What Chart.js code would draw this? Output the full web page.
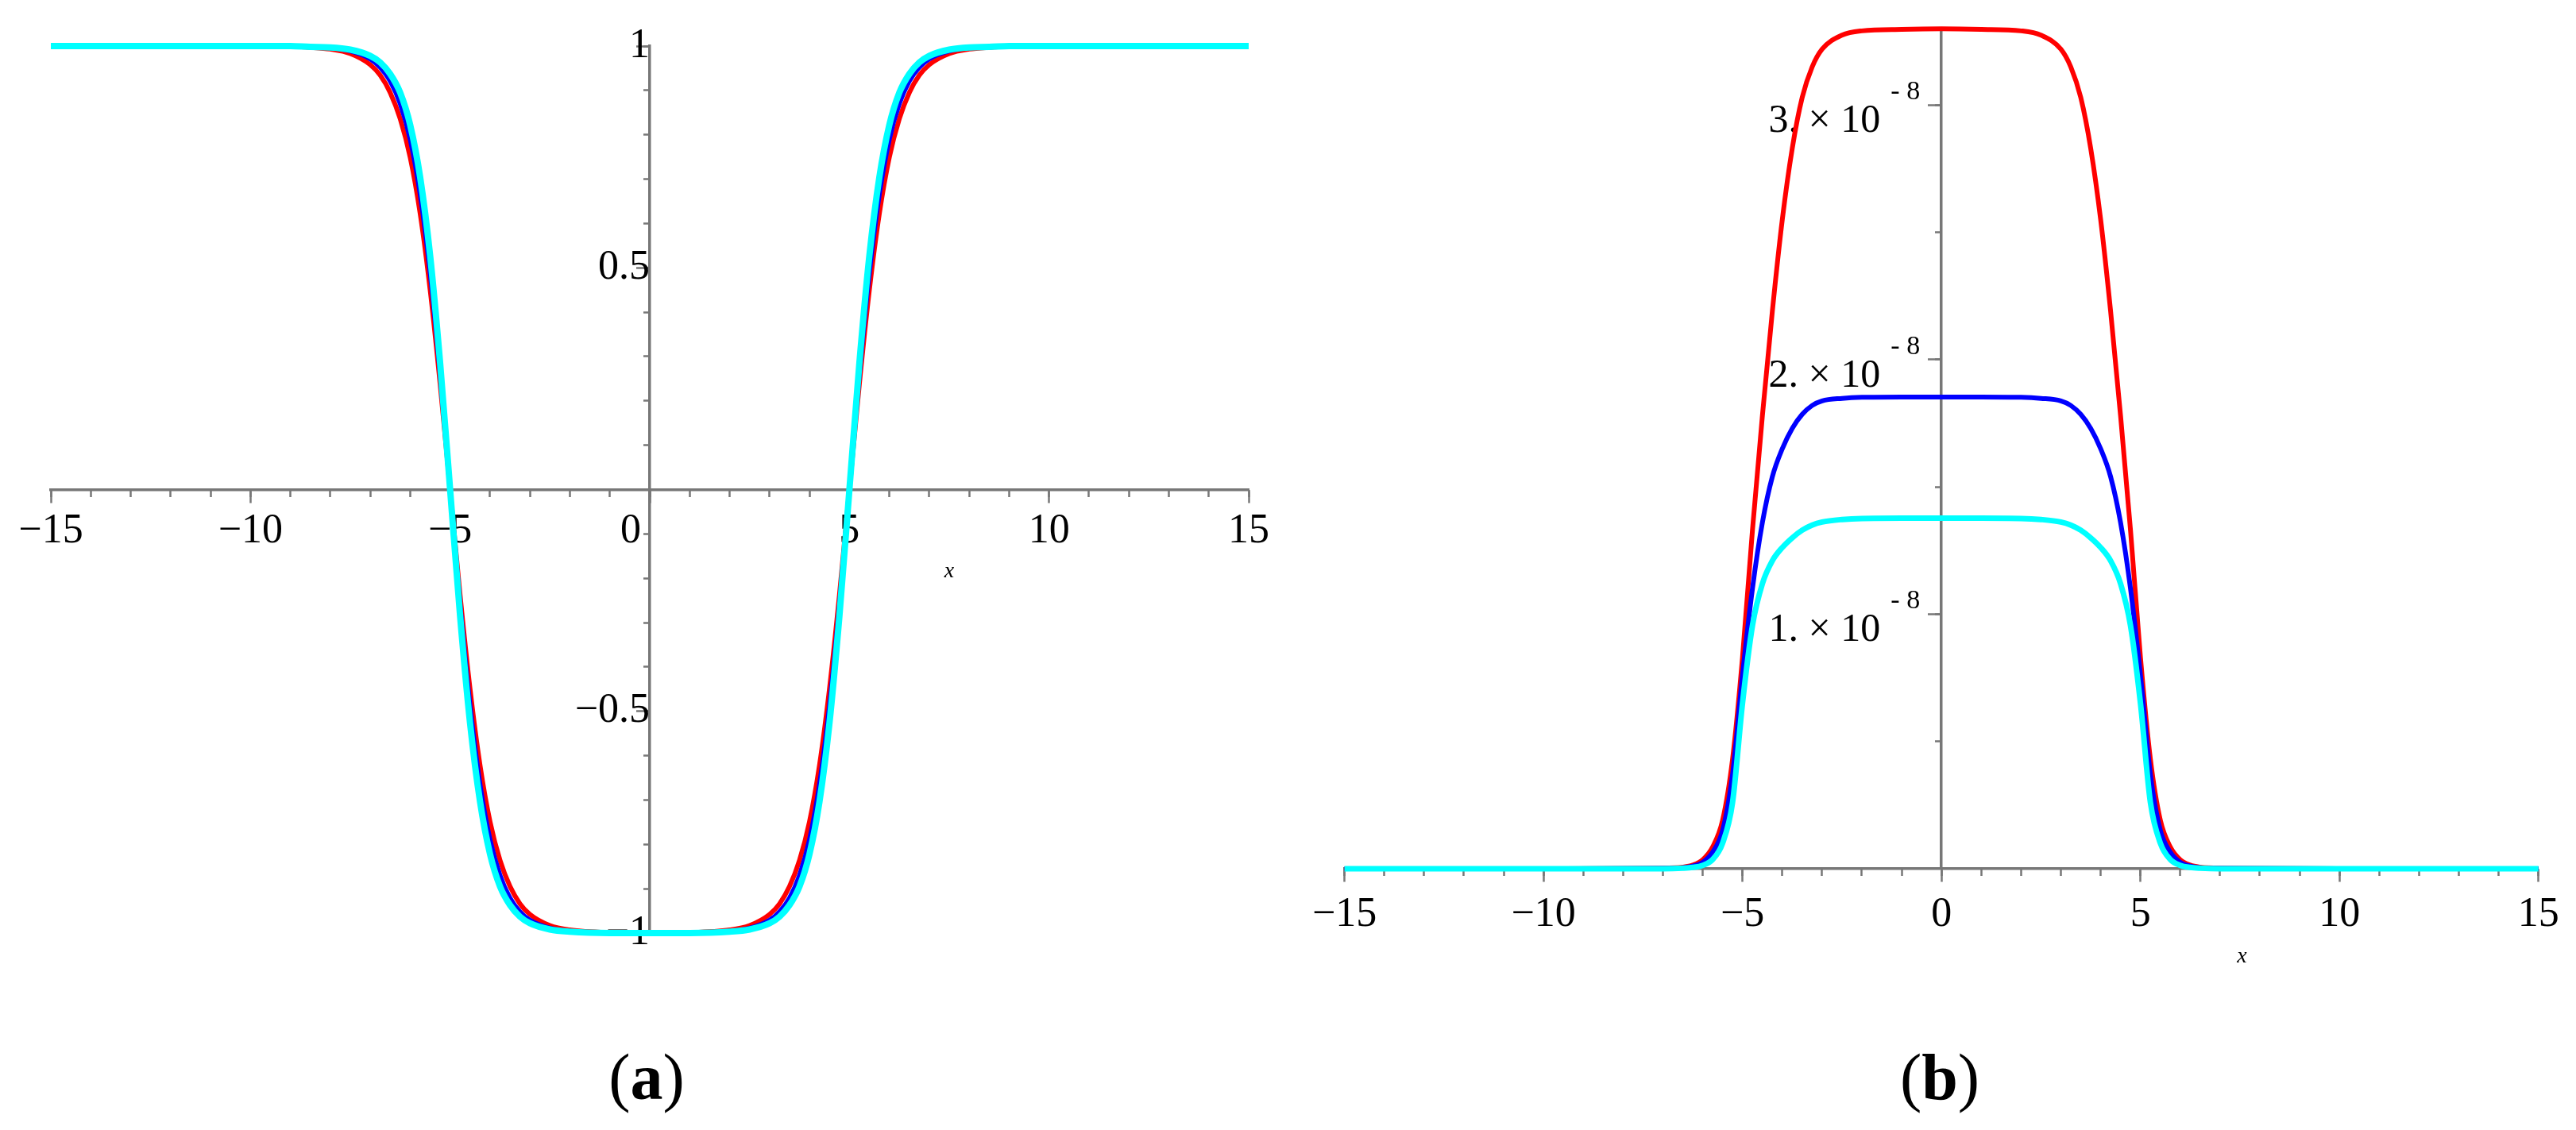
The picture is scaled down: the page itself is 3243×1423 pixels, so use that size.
<!DOCTYPE html>
<html lang="en">
<head>
<meta charset="UTF-8">
<title>Kink profiles (a) and (b)</title>
<script src="https://cdn.jsdelivr.net/npm/chart.js"></script>
<style>
  body { margin: 0; background: #fff; width: 3243px; height: 1423px; position: relative; overflow: hidden; }
  canvas { position: absolute; top: 0; }
  #left { left: 0; }
  #right { left: 1640px; }
  .tag { position: absolute; top: 1357px; transform: translate(-50%, -50%);
         font-family: 'Liberation Serif', 'Times New Roman', serif; font-size: 82px; line-height: normal; }
  .tag b { font-weight: bold; }
</style>
</head>
<body>
<canvas id="left" width="1640" height="1290"></canvas>
<canvas id="right" width="1603" height="1290"></canvas>
<div class="tag" style="left:814px">(<b>a</b>)</div>
<div class="tag" style="left:2442px">(<b>b</b>)</div>

<script>
// (a) field profiles
const kinkX = [-15, -12, -10, -9, -8.5, -8, -7.5, -7, -6.75, -6.5, -6.25, -6, -5.75, -5.5, -5.25, -5,
  -4.75, -4.5, -4.25, -4, -3.75, -3.5, -3.25, -3, -2.5, -2, -1, 0,
  1, 2, 2.5, 3, 3.25, 3.5, 3.75, 4, 4.25, 4.5, 4.75, 5,
  5.25, 5.5, 5.75, 6, 6.25, 6.5, 6.75, 7, 7.5, 8, 8.5, 9, 10, 12, 15];
const kinkRed = [1, 1, 1, 0.999, 0.997, 0.993, 0.983, 0.958, 0.934, 0.895, 0.836, 0.749, 0.622, 0.450, 0.238, 0,
  -0.238, -0.450, -0.622, -0.749, -0.836, -0.895, -0.934, -0.958, -0.983, -0.993, -0.999, -1,
  -0.999, -0.993, -0.983, -0.958, -0.934, -0.895, -0.836, -0.749, -0.622, -0.450, -0.238, 0,
  0.238, 0.450, 0.622, 0.749, 0.836, 0.895, 0.934, 0.958, 0.983, 0.993, 0.997, 0.999, 1, 1, 1];
const kinkBlue = [1, 1, 1, 1, 0.998, 0.996, 0.989, 0.971, 0.952, 0.921, 0.870, 0.790, 0.666, 0.489, 0.261, 0,
  -0.261, -0.489, -0.666, -0.790, -0.870, -0.921, -0.952, -0.971, -0.989, -0.996, -1, -1,
  -1, -0.996, -0.989, -0.971, -0.952, -0.921, -0.870, -0.790, -0.666, -0.489, -0.261, 0,
  0.261, 0.489, 0.666, 0.790, 0.870, 0.921, 0.952, 0.971, 0.989, 0.996, 0.998, 1, 1, 1, 1];
const kinkCyan = [1, 1, 1, 1, 0.998, 0.997, 0.992, 0.978, 0.963, 0.937, 0.895, 0.822, 0.704, 0.527, 0.285, 0,
  -0.285, -0.527, -0.704, -0.822, -0.895, -0.937, -0.963, -0.978, -0.992, -0.997, -1, -1,
  -1, -0.997, -0.992, -0.978, -0.963, -0.937, -0.895, -0.822, -0.704, -0.527, -0.285, 0,
  0.285, 0.527, 0.704, 0.822, 0.895, 0.937, 0.963, 0.978, 0.992, 0.997, 0.998, 1, 1, 1, 1];

// (b) density profiles, in units of 1e-8
const bumpX = [-15, -10, -7, -6.5, -6.25, -6, -5.75, -5.5, -5.25, -5, -4.75, -4.5, -4.25, -4, -3.75, -3.5,
  -3.25, -3, -2.5, -2, -1, 0, 1, 2, 2.5, 3, 3.25, 3.5, 3.75, 4, 4.25, 4.5, 4.75, 5,
  5.25, 5.5, 5.75, 6, 6.25, 6.5, 7, 10, 15];
const bumpRed = [0, 0, 0.002, 0.006, 0.014, 0.035, 0.085, 0.19, 0.43, 0.83, 1.33, 1.78, 2.19, 2.55, 2.83, 3.03,
  3.15, 3.22, 3.275, 3.292, 3.298, 3.3, 3.298, 3.292, 3.275, 3.22, 3.15, 3.03, 2.83, 2.55, 2.19, 1.78, 1.33, 0.83,
  0.43, 0.19, 0.085, 0.035, 0.014, 0.006, 0.002, 0, 0];
const bumpBlue = [0, 0, 0.001, 0.004, 0.01, 0.025, 0.065, 0.15, 0.37, 0.76, 1.10, 1.36, 1.54, 1.65, 1.73, 1.785,
  1.82, 1.838, 1.848, 1.852, 1.853, 1.853, 1.853, 1.852, 1.848, 1.838, 1.82, 1.785, 1.73, 1.65, 1.54, 1.36, 1.10, 0.76,
  0.37, 0.15, 0.065, 0.025, 0.01, 0.004, 0.001, 0, 0];
const bumpCyan = [0, 0, 0, 0.002, 0.005, 0.013, 0.036, 0.10, 0.26, 0.65, 0.955, 1.12, 1.21, 1.262, 1.30, 1.33,
  1.35, 1.362, 1.372, 1.376, 1.377, 1.377, 1.377, 1.376, 1.372, 1.362, 1.35, 1.33, 1.30, 1.262, 1.21, 1.12, 0.955, 0.65,
  0.26, 0.10, 0.036, 0.013, 0.005, 0.002, 0, 0, 0];

const powerTicks = [1, 2, 3];   // labelled as "n. × 10^-8"

const serif = "'Liberation Serif', 'Times New Roman', serif";
const grey = '#777';
const minus = v => String(v).replace('-', '\u2212');

const pairs = (xs, ys) => xs.map((x, i) => ({ x: x, y: ys[i] }));

const line = (xs, ys, color, width, order) => ({
  data: pairs(xs, ys),
  borderColor: color,
  borderWidth: width,
  pointRadius: 0,
  fill: false,
  clip: false,
  order: order,
  cubicInterpolationMode: 'monotone'
});

// an axis drawn through the origin; the major one carries the labels
function axis(dir, min, max, step, tickLen, opts) {
  opts = opts || {};
  return {
    type: 'linear',
    min: min,
    max: max,
    position: dir === 'x' ? { y: 0 } : { x: 0 },
    afterFit: s => { if (dir === 'x') s.height = 0; else s.width = 0; },
    border: { display: !!opts.line, color: grey, width: 3.5 },
    grid: { drawOnChartArea: false, tickLength: tickLen, tickWidth: 2.5, tickColor: grey },
    ticks: {
      display: !!opts.labels,
      stepSize: step,
      autoSkip: false,
      maxRotation: 0,
      includeBounds: false,
      padding: opts.pad || 0,
      color: '#000',
      font: { family: serif, size: 52 },
      callback: opts.labels || (() => '')
    }
  };
}

// texts the axes cannot place themselves
const annotate = {
  id: 'annotate',
  beforeDatasetsDraw(chart, args, o) {
    const ctx = chart.ctx;
    const xs = chart.scales.x, ys = chart.scales.y;
    const ax = xs.getPixelForValue(0), ay = ys.getPixelForValue(0);
    ctx.save();
    ctx.fillStyle = '#000';
    ctx.font = 'italic 28px ' + serif;
    ctx.textAlign = 'center';
    ctx.textBaseline = 'middle';
    ctx.fillText('x', xs.getPixelForValue(o.nameAt), ay + o.nameDrop);
    if (o.origin) {
      ctx.font = '52px ' + serif;
      ctx.textAlign = 'right';
      ctx.fillText('0', ax - 11, ay + 53);
    }
    if (o.powers) {
      ctx.textAlign = 'right';
      ctx.textBaseline = 'alphabetic';
      o.powers.forEach(n => {
        const py = ys.getPixelForValue(n);
        ctx.font = '50px ' + serif;
        ctx.fillText(n + '. \u00d7 10', ax - 77, py + 34);
        ctx.font = '34px ' + serif;
        ctx.fillText('- 8', ax - 27, py - 7);
      });
    }
    ctx.restore();
  }
};

const base = {
  animation: false,
  responsive: false,
  devicePixelRatio: 1,
  events: [],
  plugins: { legend: { display: false }, tooltip: { enabled: false } }
};

new Chart(document.getElementById('left'), {
  type: 'line',
  data: {
    datasets: [
      line(kinkX, kinkRed, '#ff0000', 6, 3),
      line(kinkX, kinkBlue, '#0000ff', 6, 2),
      line(kinkX, kinkCyan, '#00ffff', 8, 1)
    ]
  },
  options: Object.assign({}, base, {
    layout: { padding: { left: 64, right: 68, top: 58, bottom: 115 } },
    plugins: Object.assign({}, base.plugins, { annotate: { nameAt: 7.5, nameDrop: 103, origin: true } }),
    scales: {
      x: axis('x', -15, 15, 5, 15, { line: true, pad: 7, labels: v => v === 0 ? '' : minus(v) }),
      xm: axis('x', -15, 15, 1, 9),
      y: axis('y', -1, 1, 0.5, 15, { line: true, pad: 11, labels: v => v === 0 ? '' : minus(v) }),
      ym: axis('y', -1, 1, 0.1, 8)
    }
  }),
  plugins: [annotate]
});

new Chart(document.getElementById('right'), {
  type: 'line',
  data: {
    datasets: [
      line(bumpX, bumpRed, '#ff0000', 6, 3),
      line(bumpX, bumpBlue, '#0000ff', 6, 2),
      line(bumpX, bumpCyan, '#00ffff', 7, 1)
    ]
  },
  options: Object.assign({}, base, {
    layout: { padding: { left: 51.5, right: 47.3, top: 36.3, bottom: 196.1 } },
    plugins: Object.assign({}, base.plugins, { annotate: { nameAt: 7.55, nameDrop: 111, powers: powerTicks } }),
    scales: {
      x: axis('x', -15, 15, 5, 15, { line: true, pad: 12, labels: v => minus(v) }),
      xm: axis('x', -15, 15, 1, 9),
      y: axis('y', 0, 3.3, 1, 15, { line: true }),
      ym: axis('y', 0, 3.3, 0.5, 8)
    }
  }),
  plugins: [annotate]
});
</script>
</body>
</html>
